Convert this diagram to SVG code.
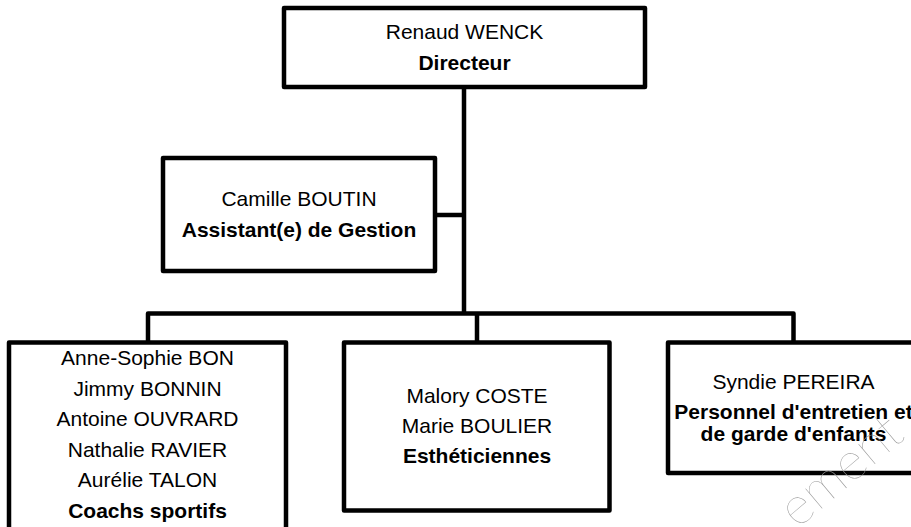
<svg xmlns="http://www.w3.org/2000/svg" width="911" height="527" viewBox="0 0 911 527">
<style>
.box{fill:#fff;stroke:#000;stroke-width:4.5;stroke-linejoin:round}
.con{fill:none;stroke:#000;stroke-width:4.5;stroke-linejoin:round}
text{font-family:"Liberation Sans",Arial,sans-serif;font-size:21px;fill:#000;text-anchor:middle}
.b{font-weight:bold}
.wm{font-family:Lato,"Liberation Sans",sans-serif;font-weight:100;font-size:53px;fill:#9a9a9a;text-anchor:start}
</style>
<rect width="911" height="527" fill="#fff"/>
<g id="connectors">
<path class="con" d="M464 87 V313.5"/>
<path class="con" d="M435 215 H464"/>
<path class="con" d="M148 342.5 V313.5 H793.5 V342.5"/>
<path class="con" d="M477 313.5 V342.5"/>
</g>
<g id="node-directeur">
<rect class="box" x="284" y="8" width="361" height="79"/>
<text x="464.5" y="39">Renaud WENCK</text>
<text x="464.5" y="70" class="b">Directeur</text>
</g>
<g id="node-assistant">
<rect class="box" x="163" y="158" width="272" height="113"/>
<text x="299" y="205.5">Camille BOUTIN</text>
<text x="299" y="237" class="b">Assistant(e) de Gestion</text>
</g>
<g id="node-coachs">
<rect class="box" x="9" y="342.5" width="277" height="200"/>
<text x="147.5" y="365">Anne-Sophie BON</text>
<text x="147.5" y="395.5">Jimmy BONNIN</text>
<text x="147.5" y="426">Antoine OUVRARD</text>
<text x="147.5" y="456.5">Nathalie RAVIER</text>
<text x="147.5" y="487">Aurélie TALON</text>
<text x="147.5" y="517.5" class="b">Coachs sportifs</text>
</g>
<g id="node-estheticiennes">
<rect class="box" x="344" y="342.5" width="265.5" height="168"/>
<text x="477" y="403">Malory COSTE</text>
<text x="477" y="433">Marie BOULIER</text>
<text x="477" y="463" class="b">Esthéticiennes</text>
</g>
<g id="node-entretien">
<rect class="box" x="668" y="342.5" width="251" height="130.5"/>
<text x="793.5" y="389">Syndie PEREIRA</text>
<text x="793.5" y="419" class="b">Personnel d'entretien et</text>
<text x="793.5" y="441" class="b">de garde d'enfants</text>
</g>
<text class="wm" transform="translate(800,514) rotate(-40)" x="-12" y="10">ement</text>
</svg>
